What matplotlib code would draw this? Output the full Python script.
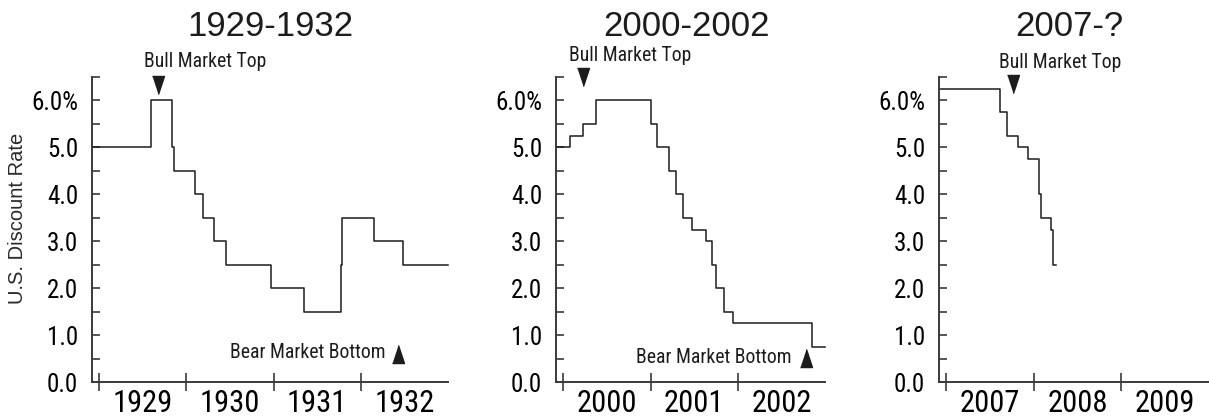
import matplotlib
matplotlib.use("Agg")
import matplotlib.pyplot as plt
from matplotlib.ticker import MultipleLocator, FixedLocator, NullFormatter, FixedFormatter

# Step dates (fraction of year) and the discount rate in effect from that date
dates_1929 = [1928.92, 1929.60, 1929.835, 1929.86, 1930.10, 1930.19, 1930.32,
              1930.46, 1930.97, 1931.35, 1931.77, 1931.78, 1932.15, 1932.48, 1933.0]
rates_1929 = [5.0, 6.0, 5.0, 4.5, 4.0, 3.5, 3.0, 2.5, 2.0, 1.5, 2.5, 3.5, 3.0, 2.5, 2.5]

dates_2000 = [1999.92, 2000.08, 2000.22, 2000.37, 2001.00, 2001.07, 2001.21,
              2001.29, 2001.37, 2001.48, 2001.63, 2001.70, 2001.75, 2001.84,
              2001.94, 2002.85, 2003.0]
rates_2000 = [5.0, 5.25, 5.5, 6.0, 5.5, 5.0, 4.5, 4.0, 3.5, 3.25, 3.0, 2.5, 2.0,
              1.5, 1.25, 0.75, 0.75]

dates_2007 = [2006.92, 2007.61, 2007.70, 2007.82, 2007.93, 2008.06, 2008.08,
              2008.20, 2008.215, 2008.26]
rates_2007 = [6.25, 5.75, 5.25, 5.0, 4.75, 4.0, 3.5, 3.25, 2.5, 2.5]

titles = ["1929-1932", "2000-2002", "2007-?"]
years_1929 = [1929, 1930, 1931, 1932]
years_2000 = [2000, 2001, 2002]
years_2007 = [2007, 2008, 2009]

# (x, y) of the bull-top / bear-bottom triangles, None where there is none
bull_top = [(1929.68, 6.32), (2000.23, 6.49), (2007.76, 6.35)]
bear_bottom = [(1932.43, 0.59), (2002.78, 0.51), None]

NARROW = ["Roboto Condensed", "Liberation Sans", "DejaVu Sans"]
REGULAR = ["Liberation Sans", "DejaVu Sans"]
INK = "#1c1c1c"
AXIS = "#3a3a3a"

fig = plt.figure(figsize=(12.09, 4.17), dpi=100)

# axes boxes in figure fractions (left, bottom, width, height)
boxes = [(0.0761, 0.0839, 0.2945, 0.7314),
         (0.4599, 0.0839, 0.2225, 0.7314),
         (0.7767, 0.0839, 0.2233, 0.7314)]
xlims = [(1928.92, 1933.0), (1999.916, 2003.0), (2006.92, 2010.0)]
series = [(dates_1929, rates_1929), (dates_2000, rates_2000), (dates_2007, rates_2007)]
year_sets = [years_1929, years_2000, years_2007]
title_x = [0.2233, 0.5678, 0.8842]

# text positions for the annotations (data coords)
bull_text = [(1929.52, 6.71), (2000.07, 6.84), (2007.60, 6.70)]
bear_text = [(1932.28, 0.51), (2002.62, 0.41), None]

down_tri = [(-0.33, 0.5), (0.33, 0.5), (0, -0.5)]
up_tri = [(-0.33, -0.5), (0.33, -0.5), (0, 0.5)]

for i in range(3):
    ax = fig.add_axes(boxes[i])
    x, y = series[i]
    ax.step(x, y, where="post", color=INK, lw=1.1, clip_on=False)

    ax.set_xlim(*xlims[i])
    ax.set_ylim(0, 6.5)

    for side in ["top", "right"]:
        ax.spines[side].set_visible(False)
    for side in ["left", "bottom"]:
        ax.spines[side].set_color(AXIS)
        ax.spines[side].set_linewidth(1.4)

    # y axis: ticks every 0.5, labels on whole numbers
    ax.yaxis.set_major_locator(MultipleLocator(1.0))
    ax.yaxis.set_minor_locator(MultipleLocator(0.5))
    ax.set_yticklabels([("%.1f%%" % v) if v == 6 else ("%.1f" % v)
                        for v in ax.get_yticks()])
    ax.tick_params(axis="y", which="both", direction="in", length=6, width=1.2,
                   color=AXIS, pad=10, labelsize=18)
    for lab in ax.get_yticklabels():
        lab.set_family(NARROW)

    # x axis: ticks at year boundaries, labels centered on each year
    yrs = year_sets[i]
    ax.xaxis.set_major_locator(FixedLocator(yrs))
    ax.xaxis.set_major_formatter(NullFormatter())
    ax.xaxis.set_minor_locator(FixedLocator([v + 0.5 for v in yrs]))
    ax.xaxis.set_minor_formatter(FixedFormatter([str(v) for v in yrs]))
    ax.tick_params(axis="x", which="major", direction="inout", length=13, width=1.2,
                   color=AXIS)
    ax.tick_params(axis="x", which="minor", length=0, pad=5, labelsize=22)
    for lab in ax.get_xticklabels(minor=True):
        lab.set_family(NARROW)

    # bull market top marker
    bx, by = bull_top[i]
    ax.plot([bx], [by], marker=down_tri, ms=13, color=INK, clip_on=False)
    tx, ty = bull_text[i]
    ax.text(tx, ty, "Bull Market Top", ha="left", va="baseline", fontsize=14.2,
            family=NARROW, color=INK, clip_on=False)

    if bear_bottom[i] is not None:
        bx, by = bear_bottom[i]
        ax.plot([bx], [by], marker=up_tri, ms=13, color=INK, clip_on=False)
        tx, ty = bear_text[i]
        ax.text(tx, ty, "Bear Market Bottom", ha="right", va="baseline",
                fontsize=14.2, family=NARROW, color=INK)

    fig.text(title_x[i], 0.9137, titles[i], ha="center", va="baseline",
             fontsize=25, family=REGULAR, color=INK)

fig.text(17.5 / 1209, 0.477, "U.S. Discount Rate", rotation=90, ha="center",
         va="center", fontsize=14.5, family=REGULAR, color="#2a2a2a")

fig.savefig("out.png", dpi=100)
